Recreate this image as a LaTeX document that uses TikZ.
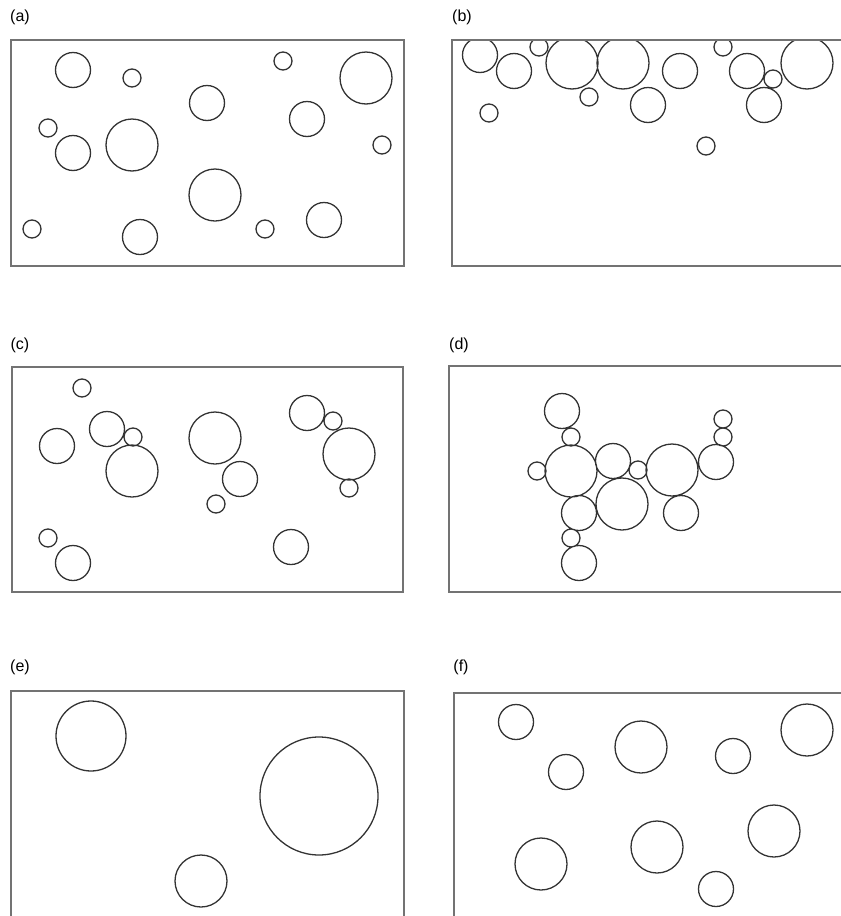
\documentclass[tikz,border=0pt]{standalone}
\usepackage{fontspec}
\usepackage{tikz}
\newfontfamily\lblfont{Liberation Sans}

\begin{document}
\begin{tikzpicture}[x=1pt, y=-1pt,
    frame/.style={draw=black!55, line width=1.6pt},
    circ/.style={draw=black!80, line width=1.3pt},
    lbl/.style={font=\lblfont\fontsize{16}{18}\selectfont, inner sep=0pt}]

    % Радиусы кругов
    \def\rsm{9pt}
    \def\rmd{17.5pt}
    \def\rlg{26pt}

    \clip (0,0) rectangle (841,916);

    % Подписи панелей
    \node[lbl] (la) at (20,17)  {(a)};
    \node[lbl] (lb) at (462,17) {(b)};
    \node[lbl] (lc) at (20,345) {(c)};
    \node[lbl] (ld) at (459,345) {(d)};
    \node[lbl] (le) at (20,667) {(e)};
    \node[lbl] (lf) at (461,667) {(f)};

    % Панель (a)
    \draw[frame] (11,40) rectangle (404,266);
    \draw[circ] (73,70) circle[radius=\rmd]  (132,78) circle[radius=\rsm]
                (207,103) circle[radius=\rmd] (283,61) circle[radius=\rsm]
                (366,78) circle[radius=\rlg]  (48,128) circle[radius=\rsm]
                (73,153) circle[radius=\rmd]  (132,145) circle[radius=\rlg]
                (307,119) circle[radius=\rmd] (382,145) circle[radius=\rsm]
                (215,195) circle[radius=\rlg] (32,229) circle[radius=\rsm]
                (140,237) circle[radius=\rmd] (265,229) circle[radius=\rsm]
                (324,220) circle[radius=\rmd];

    % Панель (b): круги всплыли к верхней границе
    \begin{scope}
        \clip (452,40) rectangle (860,266);
        \draw[circ] (480,55) circle[radius=\rmd]  (514,71) circle[radius=\rmd]
                    (539,47) circle[radius=\rsm]  (572,63) circle[radius=\rlg]
                    (623,63) circle[radius=\rlg]  (589,97) circle[radius=\rsm]
                    (680,71) circle[radius=\rmd]  (648,105) circle[radius=\rmd]
                    (723,47) circle[radius=\rsm]  (747,71) circle[radius=\rmd]
                    (773,79) circle[radius=\rsm]  (807,63) circle[radius=\rlg]
                    (764,105) circle[radius=\rmd] (489,113) circle[radius=\rsm]
                    (706,146) circle[radius=\rsm];
    \end{scope}
    \draw[frame] (452,40) rectangle (860,266);

    % Панель (c)
    \draw[frame] (12,367) rectangle (403,592);
    \draw[circ] (82,388) circle[radius=\rsm]  (107,429) circle[radius=\rmd]
                (133,437) circle[radius=\rsm] (57,446) circle[radius=\rmd]
                (132,471) circle[radius=\rlg] (215,438) circle[radius=\rlg]
                (240,479) circle[radius=\rmd] (216,504) circle[radius=\rsm]
                (307,413) circle[radius=\rmd] (333,421) circle[radius=\rsm]
                (349,454) circle[radius=\rlg] (349,488) circle[radius=\rsm]
                (48,538) circle[radius=\rsm]  (73,563) circle[radius=\rmd]
                (291,547) circle[radius=\rmd];

    % Панель (d): скопление
    \draw[frame] (449,366) rectangle (860,592);
    \draw[circ] (562,411) circle[radius=\rmd] (571,437) circle[radius=\rsm]
                (571,471) circle[radius=\rlg] (537,471) circle[radius=\rsm]
                (613,461) circle[radius=\rmd] (638,470) circle[radius=\rsm]
                (672,470) circle[radius=\rlg] (716,462) circle[radius=\rmd]
                (723,437) circle[radius=\rsm] (723,419) circle[radius=\rsm]
                (622,504) circle[radius=\rlg] (579,513) circle[radius=\rmd]
                (681,513) circle[radius=\rmd] (571,538) circle[radius=\rsm]
                (579,563) circle[radius=\rmd];

    % Панель (e)
    \draw[frame] (11,691) rectangle (404,930);
    \draw[circ] (91,736) circle[radius=35pt]
                (319,796) circle[radius=59pt]
                (201,881) circle[radius=\rlg];

    % Панель (f)
    \draw[frame] (454,693) rectangle (860,930);
    \draw[circ] (516,722) circle[radius=\rmd] (566,772) circle[radius=\rmd]
                (641,747) circle[radius=\rlg] (733,756) circle[radius=\rmd]
                (807,730) circle[radius=\rlg] (541,864) circle[radius=\rlg]
                (657,847) circle[radius=\rlg] (774,831) circle[radius=\rlg]
                (716,889) circle[radius=\rmd];

\end{tikzpicture}
\end{document}
